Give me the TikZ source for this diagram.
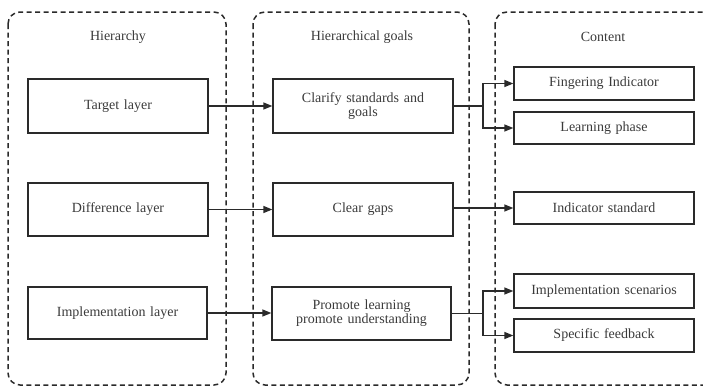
\documentclass[tikz,border=0pt]{standalone}
\usepackage{fontspec}
\setmainfont{Liberation Serif}
\usetikzlibrary{arrows.meta}
\definecolor{ink}{HTML}{2A2A2A}
\definecolor{txt}{HTML}{3A3A3A}
\begin{document}
\begin{tikzpicture}[x=1pt,y=-1pt,
  panel/.style={draw=ink, line width=1.5pt, dash pattern=on 5pt off 3.5pt, rounded corners=12pt},
  box/.style={draw=ink, line width=1.3pt, minimum width=180pt, text width=170pt, align=center, inner sep=0pt, font=\fontsize{14}{16}\selectfont, text=txt},
  title/.style={font=\fontsize{14}{16}\selectfont, text=txt},
  conn/.style={draw=ink, line width=1.3pt},
  arr/.style={conn, -{Triangle[length=9pt,width=7pt]}}]
\useasboundingbox (0,0) rectangle (703,388);
\draw[panel] (8,12) rectangle (226,385);
\draw[panel] (253,12) rectangle (469,385);
\draw[panel] (495,12) rectangle (720,385);
\node[title] (t1) at (118,37) {Hierarchy};
\node[title] (t2) at (362,37) {Hierarchical goals};
\node[title] (t3) at (603,37) {Content};
\node[box, minimum height=54pt] (target) at (118,106) {Target layer};
\node[box, minimum height=53pt] (diff) at (118,209.5) {Difference layer};
\node[box, minimum height=52pt, minimum width=179pt] (impl) at (117.5,313) {Implementation layer};
\node[box, minimum height=54pt] (clar) at (363,106) {Clarify standards and\\[-2pt]goals};
\node[box, minimum height=53pt] (gaps) at (363,209.5) {Clear gaps};
\node[box, minimum height=53pt, minimum width=179pt] (prom) at (361.5,313.5) {Promote learning\\[-2pt]promote understanding};
\node[box, minimum height=33pt] (fing) at (604,83.5) {Fingering Indicator};
\node[box, minimum height=32pt] (learn) at (604,128) {Learning phase};
\node[box, minimum height=32pt] (ind) at (604,208) {Indicator standard};
\node[box, minimum height=34pt] (scen) at (604,291) {Implementation scenarios};
\node[box, minimum height=33pt] (spec) at (604,335.5) {Specific feedback};
\coordinate (b1) at (483,106);
\coordinate (b2) at (483,313.5);
\draw[arr] (target.east) -- (target.east -| clar.west);
\draw[arr] (diff.east) -- (diff.east -| gaps.west);
\draw[arr] (impl.east) -- (impl.east -| prom.west);
\draw[arr] (gaps.east |- ind.west) -- (ind.west);
\draw[conn] (clar.east) -- (b1);
\draw[arr] (b1) |- (fing.west);
\draw[arr] (b1) |- (learn.west);
\draw[conn] (prom.east) -- (b2);
\draw[arr] (b2) |- (scen.west);
\draw[arr] (b2) |- (spec.west);
\end{tikzpicture}
\end{document}
